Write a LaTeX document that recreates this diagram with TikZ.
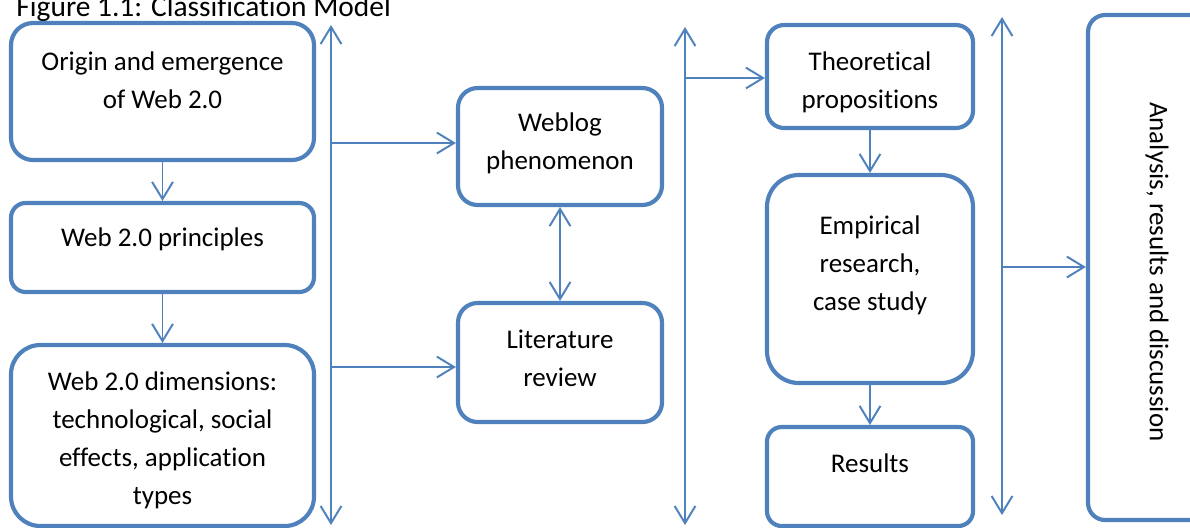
\documentclass[tikz,border=0pt]{standalone}
\usepackage{fontspec}
\setmainfont{Carlito}[Ligatures=NoCommon]
\usetikzlibrary{fit,arrows.meta}
\definecolor{boxblue}{RGB}{79,129,189}

\begin{document}
\begin{tikzpicture}[x=0.408pt,y=-0.408pt,
  box/.style={draw=boxblue,line width=1.7pt,rounded corners=#1,inner sep=0pt},
  box/.default=7pt,
  boxtext/.style={inner sep=0pt,align=center,font=\fontsize{11}{15.5}\selectfont},
  link/.style={draw=boxblue,line width=0.8pt,-{Straight Barb[length=7pt,width=8.5pt]}},
  twoway/.style={draw=boxblue,line width=0.8pt,{Straight Barb[length=7pt,width=8.5pt]}-{Straight Barb[length=7pt,width=8.5pt]}}]
\useasboundingbox (0,0) rectangle (1190,527);
\node (title) [anchor=base west,inner sep=0pt,font=\fontsize{12}{14}\selectfont] at (16,16) {Figure 1.1: Classification Model};

% first column
\node (origin) [box=9pt,fit={(11,23) (314,160)}] {};
\node (principles) [box=6pt,fit={(11,203) (314,292)}] {};
\node (dimensions) [box=12pt,fit={(11,345) (314,526)}] {};
\node (origintext) [boxtext] at ([yshift=4.7pt]origin.center) {Origin and emergence\\of Web 2.0};
\node (principlestext) [boxtext] at ([yshift=3.5pt]principles.center) {Web 2.0 principles};
\node (dimensionstext) [boxtext] at ([yshift=-1.8pt]dimensions.center) {Web 2.0 dimensions:\\technological, social\\effects, application\\types};
\draw[link] (origin) -- (principles);
\draw[link] (principles) -- (dimensions);

% second column
\node (weblog) [box=8pt,fit={(458,88) (662,205)}] {};
\node (litrev) [box=8pt,fit={(458,303) (662,422)}] {};
\node (weblogtext) [boxtext] at ([yshift=1.2pt]weblog.center) {Weblog\\phenomenon};
\node (litrevtext) [boxtext] at ([yshift=1.8pt]litrev.center) {Literature\\review};
\draw[twoway] (weblog) -- (litrev);

% third column
\node (theory) [box=7pt,fit={(767,25) (973,128)}] {};
\node (empirical) [box=13pt,fit={(767,175) (973,383)}] {};
\node (results) [box=6pt,fit={(767,427) (973,526)}] {};
\node (theorytext) [boxtext] at ([yshift=-2.2pt]theory.center) {Theoretical\\propositions};
\node (empiricaltext) [boxtext] at ([yshift=5.5pt]empirical.center) {Empirical\\research,\\case study};
\node (resultstext) [boxtext] at ([yshift=5.5pt]results.center) {Results};
\draw[link] (theory) -- (empirical);
\draw[link] (empirical) -- (results);

% last box
\node (analysis) [box=7pt,fit={(1088,15) (1226,520)}] {};
\node (analysistext) [boxtext,rotate=-90] at ([yshift=-1.8pt]analysis.center) {Analysis, results and discussion};

% bars between the columns
\coordinate (bar1top) at (331,25);
\coordinate (bar1bot) at (331,525);
\coordinate (bar1a) at (331,143);
\coordinate (bar1b) at (331,367);
\draw[twoway] (bar1top) -- (bar1bot);
\draw[link] (bar1a) -- (bar1a -| weblog.west);
\draw[link] (bar1b) -- (bar1b -| litrev.west);

\coordinate (bar2top) at (685,27);
\coordinate (bar2bot) at (685,525);
\coordinate (bar2a) at (685,78);
\draw[twoway] (bar2top) -- (bar2bot);
\draw[link] (bar2a) -- (bar2a -| theory.west);

\coordinate (bar3top) at (1002,17);
\coordinate (bar3bot) at (1002,515);
\coordinate (bar3a) at (1002,267);
\draw[twoway] (bar3top) -- (bar3bot);
\draw[link] (bar3a) -- (bar3a -| analysis.west);
\end{tikzpicture}
\end{document}
